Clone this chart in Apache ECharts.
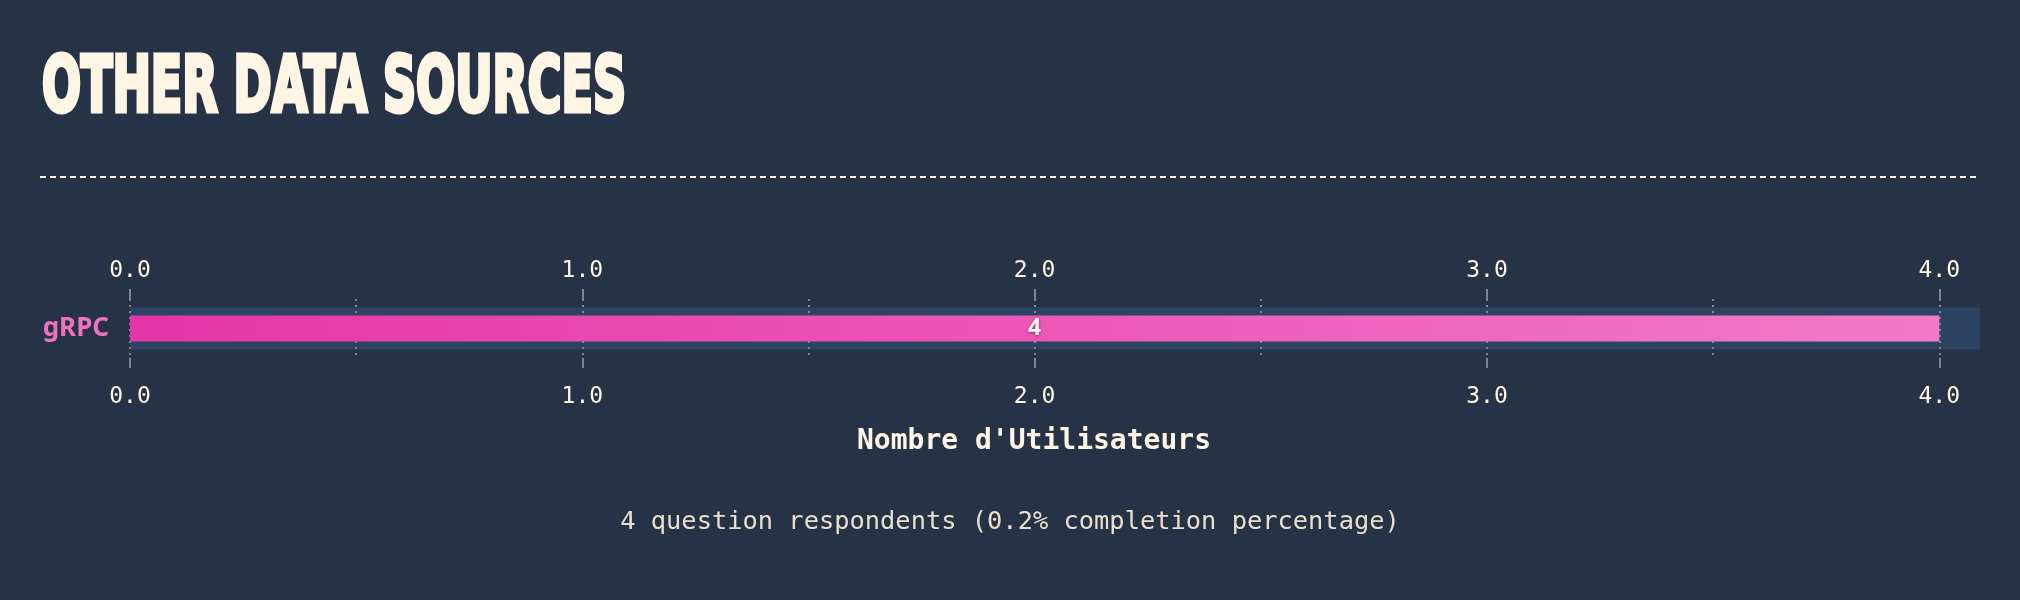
<!DOCTYPE html>
<html>
<head>
<meta charset="utf-8">
<script src="https://cdn.jsdelivr.net/npm/echarts@6/dist/echarts.min.js"></script>
<style>
  html, body { margin: 0; padding: 0; background: #263346; }
  #chart { width: 2020px; height: 600px; }
</style>
</head>
<body>
<div id="chart"></div>
<script>
const titleText = 'OTHER DATA SOURCES';
const subtitleText = '4 question respondents (0.2% completion percentage)';
const axisName = "Nombre d'Utilisateurs";
const categories = ['gRPC'];
const values = [4];
const tickValues = [0, 1, 2, 3, 4];
const minorValues = [0.5, 1.5, 2.5, 3.5];
const axisMax = 4.09;

const cream = '#fff5e5';
const grey = '#7d8591';
const monoFont = '"DejaVu Sans Mono", monospace';

// title horizontal condensation
const titleFont = 'bold 77px "DejaVu Sans"';
const mctx = document.createElement('canvas').getContext('2d');
mctx.font = titleFont;
const titleW = mctx.measureText(titleText).width;
const titleScale = 584 / titleW;

const chart = echarts.init(document.getElementById('chart'), null, { renderer: 'canvas' });

const fmt = v => Number(v).toFixed(1);

const option = {
  backgroundColor: '#263346',
  animation: false,
  title: {
    text: subtitleText,
    left: 'center',
    top: 505,
    textStyle: { color: '#e9dfcc', fontFamily: monoFont, fontWeight: 'normal', fontSize: 25.4 }
  },
  graphic: [
    {
      type: 'text', x: 42, y: 91, scaleX: titleScale,
      style: {
        text: titleText, font: titleFont, fill: cream, stroke: cream, lineWidth: 5,
        textAlign: 'left', textVerticalAlign: 'middle'
      }
    },
    {
      type: 'line',
      shape: { x1: 40, y1: 177, x2: 1980, y2: 177 },
      style: { stroke: cream, lineWidth: 2, lineDash: [6, 4] }
    }
  ],
  grid: { left: 130, right: 40, top: 299, height: 59, containLabel: false },
  xAxis: [
    {
      type: 'value', position: 'top', min: 0, max: axisMax, interval: 1, z: 1,
      axisLine: { show: false },
      axisTick: { show: true, length: 10, customValues: tickValues, lineStyle: { color: grey, width: 2 } },
      axisLabel: { customValues: tickValues, formatter: fmt, color: cream, fontFamily: monoFont, fontSize: 23, margin: 16 },
      splitLine: { show: true, lineStyle: { color: grey, width: 2, type: [2, 4] } }
    },
    {
      type: 'value', position: 'bottom', min: 0, max: axisMax, interval: 1, z: 1,
      axisLine: { show: false },
      axisTick: { show: true, length: 10, customValues: tickValues, lineStyle: { color: grey, width: 2 } },
      axisLabel: { customValues: tickValues, formatter: fmt, color: cream, fontFamily: monoFont, fontSize: 23, margin: 28 },
      splitLine: { show: false },
      name: axisName, nameLocation: 'middle', nameGap: 70,
      nameTextStyle: { color: cream, fontFamily: monoFont, fontWeight: 'bold', fontSize: 28, padding: [0, 42, 0, 0] }
    },
    {
      type: 'value', position: 'bottom', min: 0, max: axisMax, interval: 0.5, z: 1,
      axisLine: { show: false },
      axisTick: { show: false, customValues: minorValues },
      axisLabel: { show: false, customValues: minorValues },
      splitLine: { show: true, lineStyle: { color: grey, width: 2, type: [2, 4] } }
    }
  ],
  yAxis: [
    {
      type: 'category', data: categories,
      axisLine: { show: false }, axisTick: { show: false },
      axisLabel: { color: '#ef72c2', fontFamily: '"Noto Sans", sans-serif', fontWeight: 'bold', fontSize: 26, margin: 21, padding: [8, 0, 0, 0] },
      splitLine: { show: false }
    },
    {
      type: 'category', data: categories, position: 'left',
      axisLine: { show: false }, axisTick: { show: false }, axisLabel: { show: false },
      splitLine: { show: false }
    }
  ],
  series: [
    {
      type: 'bar', name: 'band', data: values, barWidth: 42, z: 0, silent: true,
      xAxisIndex: 0, yAxisIndex: 1,
      itemStyle: { color: 'rgba(0,0,0,0)' },
      showBackground: true, backgroundStyle: { color: '#2c4462' }
    },
    {
      type: 'bar', name: 'users', data: values, barWidth: 26, z: 3,
      xAxisIndex: 0, yAxisIndex: 0,
      itemStyle: {
        color: new echarts.graphic.LinearGradient(0, 0, 1, 0, [
          { offset: 0, color: '#e535a8' },
          { offset: 1, color: '#f27ac8' }
        ])
      },
      label: {
        show: true, position: 'inside', color: '#fff8ec',
        fontFamily: '"Noto Sans", sans-serif', fontWeight: 'bold', fontSize: 23,
        textShadowColor: 'rgba(60,0,40,0.6)', textShadowBlur: 3, textShadowOffsetY: 1
      }
    }
  ]
};

chart.setOption(option);
</script>
</body>
</html>
